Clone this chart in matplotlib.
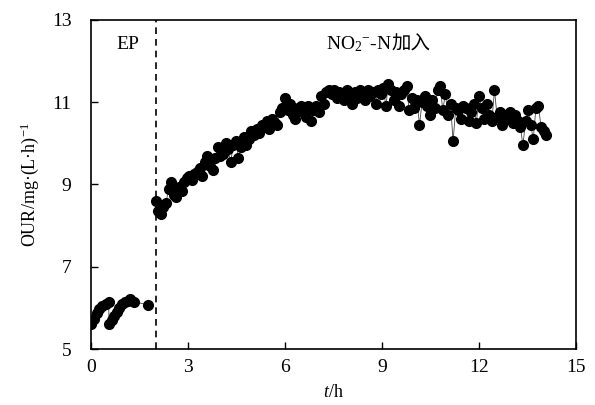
import matplotlib
matplotlib.use("Agg")
import matplotlib.pyplot as plt

plt.rcParams['font.family'] = ['Liberation Serif', 'Noto Sans CJK SC']
plt.rcParams['mathtext.fontset'] = 'custom'
plt.rcParams['mathtext.rm'] = 'Liberation Serif'
plt.rcParams['mathtext.it'] = 'Liberation Serif:italic'

# EP stage (before nitrite addition)
t_ep = [0.00, 0.08, 0.17, 0.26, 0.35, 0.45, 0.55,
        0.55, 0.64, 0.72, 0.80, 0.88, 0.96, 1.04, 1.13, 1.22, 1.32, 1.75]
our_ep = [5.62, 5.72, 5.88, 5.98, 6.05, 6.10, 6.15,
          5.62, 5.70, 5.80, 5.90, 6.00, 6.10, 6.15, 6.18, 6.22, 6.15, 6.08]

# after NO2- -N addition
t_no2 = [2.00, 2.08, 2.16, 2.24, 2.32, 2.40, 2.48, 2.56, 2.64, 2.72, 2.80, 2.88, 2.96,
         3.04, 3.12, 3.20, 3.28, 3.36, 3.44, 3.52, 3.60, 3.68, 3.76, 3.84, 3.92,
         4.00, 4.08, 4.16, 4.24, 4.32, 4.40, 4.48, 4.56, 4.64, 4.72, 4.80, 4.88, 4.96,
         5.04, 5.12, 5.20, 5.28, 5.36, 5.44, 5.52, 5.60, 5.68, 5.76, 5.84, 5.92,
         6.00, 6.08, 6.16, 6.24, 6.32, 6.40, 6.48, 6.56, 6.64, 6.72, 6.80, 6.88, 6.96,
         7.04, 7.12, 7.20, 7.28, 7.36, 7.44, 7.52, 7.60, 7.68, 7.76, 7.84, 7.92,
         8.00, 8.08, 8.16, 8.24, 8.32, 8.40, 8.48, 8.56, 8.64, 8.72, 8.80, 8.88, 8.96,
         9.04, 9.12, 9.20, 9.28, 9.36, 9.44, 9.52, 9.60, 9.68, 9.76, 9.84, 9.92,
         10.00, 10.08, 10.16, 10.24, 10.32, 10.40, 10.48, 10.56, 10.64, 10.72, 10.80, 10.88, 10.96,
         11.04, 11.12, 11.20, 11.28, 11.36, 11.44, 11.52, 11.60, 11.68, 11.76, 11.84, 11.92,
         12.00, 12.08, 12.16, 12.24, 12.32, 12.40, 12.48, 12.56, 12.64, 12.72, 12.80, 12.88, 12.96,
         13.04, 13.12, 13.20, 13.28, 13.36, 13.44, 13.52, 13.60, 13.68, 13.76, 13.84, 13.92,
         14.00, 14.08]
our_no2 = [8.60, 8.35, 8.28, 8.45, 8.55, 8.90, 9.05, 8.75, 8.70, 8.95, 8.85, 9.05, 9.15,
           9.20, 9.10, 9.25, 9.30, 9.40, 9.20, 9.55, 9.70, 9.45, 9.35, 9.65, 9.90,
           9.70, 9.75, 10.00, 9.85, 9.55, 9.95, 10.05, 9.65, 9.90, 10.15, 9.95, 10.10, 10.30,
           10.20, 10.35, 10.25, 10.45, 10.40, 10.55, 10.35, 10.60, 10.50, 10.45, 10.75, 10.85,
           11.10, 10.80, 10.95, 10.70, 10.60, 10.85, 10.90, 10.75, 10.65, 10.90, 10.55, 10.80, 10.90,
           10.75, 11.15, 10.95, 11.25, 11.30, 11.20, 11.30, 11.10, 11.25, 11.15, 11.05, 11.30,
           11.20, 10.95, 11.25, 11.10, 11.30, 11.20, 11.05, 11.30, 11.15, 11.25, 10.95, 11.30, 11.20,
           11.35, 10.90, 11.45, 11.30, 11.05, 11.25, 10.90, 11.20, 11.30, 11.40, 10.80, 11.10,
           10.85, 11.05, 10.45, 11.00, 11.15, 10.90, 10.70, 11.05, 10.85, 11.30, 11.40, 10.80, 11.20,
           10.70, 10.95, 10.05, 10.85, 10.80, 10.60, 10.90, 10.85, 10.55, 10.75, 10.95, 10.50,
           11.15, 10.85, 10.60, 10.95, 10.70, 10.55, 11.30, 10.65, 10.75, 10.45, 10.70, 10.60, 10.75,
           10.50, 10.70, 10.55, 10.40, 9.95, 10.55, 10.80, 10.45, 10.10, 10.85, 10.90, 10.40,
           10.30, 10.20]

fig = plt.figure(figsize=(5.95, 4.05), dpi=100)
ax = fig.add_axes([0.153, 0.138, 0.815, 0.813])

ax.plot(t_ep, our_ep, color='#444444', linewidth=0.6, marker='o', markersize=7,
        markerfacecolor='black', markeredgecolor='black')
ax.plot(t_no2, our_no2, color='#444444', linewidth=0.6, marker='o', markersize=7,
        markerfacecolor='black', markeredgecolor='black')

ax.axvline(2.0, color='black', linestyle=(0, (4, 3)), linewidth=1.2)

ax.text(1.15, 12.4, 'EP', fontsize=14, ha='center', va='center')
# label split so the CJK part uses normal text rendering
ax.text(9.3, 12.4, 'NO$_2$$^{-}$-N', fontsize=14, ha='right', va='center')
ax.text(9.3, 12.4, '加入', fontsize=14, ha='left', va='center',
        family=['Noto Sans CJK SC'])

ax.set_xlim(0, 15)
ax.set_ylim(5, 13)
ax.set_xticks([0, 3, 6, 9, 12, 15])
ax.set_yticks([5, 7, 9, 11, 13])
ax.tick_params(direction='in', labelsize=14, length=5, width=1, pad=7)
ax.tick_params(axis='y', pad=14)
for s in ax.spines.values():
    s.set_linewidth(1.2)

ax.set_xlabel('$\\mathit{t}$/h', fontsize=13, labelpad=6)
ax.set_ylabel('OUR/mg·(L·h)$^{-1}$', fontsize=13, labelpad=8)

fig.savefig('out.png', dpi=100)
